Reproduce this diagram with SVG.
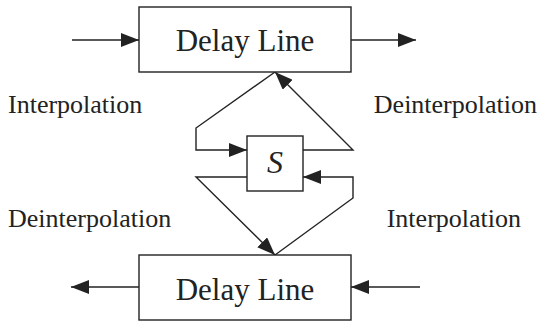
<svg xmlns="http://www.w3.org/2000/svg" width="542" height="325" viewBox="0 0 542 325">
  <style>
    .box { fill: #ffffff; stroke: #222222; stroke-width: 1.4; }
    .wire { fill: none; stroke: #222222; stroke-width: 1.4; }
    .t { font-family: "Liberation Serif", "Times New Roman", serif; fill: #222222; }
    .big { font-size: 31px; }
    .lbl { font-size: 26px; }
  </style>
  <defs>
    <marker id="arrow" markerUnits="userSpaceOnUse" markerWidth="18" markerHeight="14" refX="18" refY="7" orient="auto">
      <path d="M0,0 L18,7 L0,14 Z" fill="#222222"/>
    </marker>
  </defs>

  <!-- connectors -->
  <g id="connectors">
    <!-- top delay line in/out -->
    <line class="wire" x1="72" y1="40" x2="139" y2="40" marker-end="url(#arrow)"/>
    <line class="wire" x1="351" y1="40" x2="416" y2="40" marker-end="url(#arrow)"/>
    <!-- bottom delay line in/out -->
    <line class="wire" x1="139" y1="287" x2="71" y2="287" marker-end="url(#arrow)"/>
    <line class="wire" x1="420" y1="287" x2="351" y2="287" marker-end="url(#arrow)"/>
    <!-- top delay line to S (interpolation) -->
    <polyline class="wire" points="275,72 196,128 196,150 247,150" marker-end="url(#arrow)"/>
    <!-- S to top delay line (deinterpolation) -->
    <polyline class="wire" points="303,150 353,150 275,72" marker-end="url(#arrow)"/>
    <!-- S to bottom delay line (deinterpolation) -->
    <polyline class="wire" points="247,177 196,177 275,255" marker-end="url(#arrow)"/>
    <!-- bottom delay line to S (interpolation) -->
    <polyline class="wire" points="275,255 353,198 353,177 303,177" marker-end="url(#arrow)"/>
  </g>

  <g id="delay-top">
    <rect class="box" x="139" y="7" width="212" height="65"/>
    <text class="t big" x="245" y="51" text-anchor="middle">Delay Line</text>
  </g>

  <g id="scatter">
    <rect class="box" x="247" y="136" width="56" height="55"/>
    <text class="t" x="275" y="173" font-size="32" text-anchor="middle" font-style="italic">S</text>
  </g>

  <g id="delay-bottom">
    <rect class="box" x="139" y="255" width="212" height="65"/>
    <text class="t big" x="245" y="300" text-anchor="middle">Delay Line</text>
  </g>

  <g id="labels">
    <text class="t lbl" x="8" y="113">Interpolation</text>
    <text class="t lbl" x="537" y="113" text-anchor="end">Deinterpolation</text>
    <text class="t lbl" x="8" y="227">Deinterpolation</text>
    <text class="t lbl" x="521" y="227" text-anchor="end">Interpolation</text>
  </g>
</svg>
